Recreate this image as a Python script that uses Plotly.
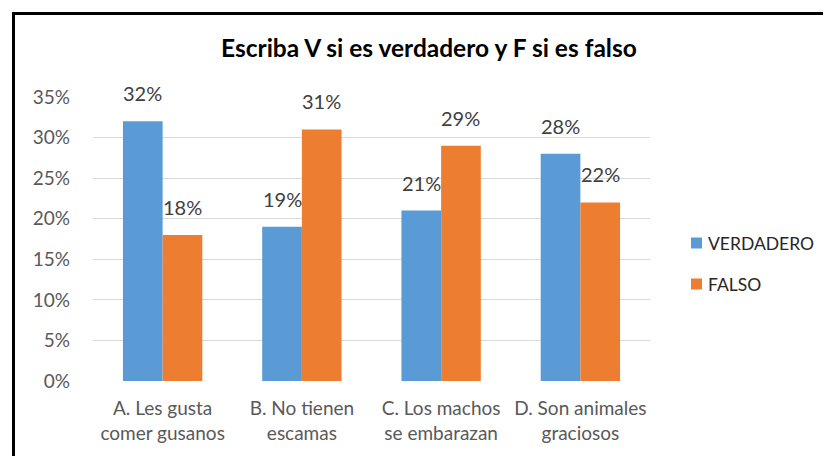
import plotly.graph_objects as go

categories = ["A. Les gusta<br>comer gusanos", "B. No tienen<br>escamas",
              "C. Los machos<br>se embarazan", "D. Son animales<br>graciosos"]
series_names = ["VERDADERO", "FALSO"]
verdadero = [0.32, 0.19, 0.21, 0.28]
falso = [0.18, 0.31, 0.29, 0.22]
y_ticks = [0, 0.05, 0.10, 0.15, 0.20, 0.25, 0.30, 0.35]
y_tick_labels = ["0%", "5%", "10%", "15%", "20%", "25%", "30%", "35%"]
title_text = "Escriba V si es verdadero y F si es falso"
caption_text = "Figura 8. Resultados de la pregunta 8"

FONT = "Lato"
colors = ["#5B9BD5", "#ED7D31"]

# page has an 8px body margin; compensate so the figure lands where the reference is
OFF = 8
W, H = 831 - OFF, 456 - OFF
L, R, T, B = 93 - OFF, 181, 97 - OFF, 75
pw, ph = W - L - R, H - T - B

def px_x(x):
    return (x - OFF - L) / pw

def px_y(y):
    return (H - B - (y - OFF)) / ph

fig = go.Figure()
xs = list(range(len(categories)))
for name, vals, col in zip(series_names, [verdadero, falso], colors):
    fig.add_trace(go.Bar(x=xs, y=vals, name=name, marker=dict(color=col, line=dict(width=0)),
                         showlegend=False))

# data labels
bw = (1 - 0.43) / 2
for k, vals in enumerate([verdadero, falso]):
    off = -bw / 2 if k == 0 else bw / 2
    for i, v in enumerate(vals):
        fig.add_annotation(x=i + off, y=v, xref="x", yref="y", text=f"{round(v*100)}%",
                           showarrow=False, yanchor="bottom", yshift=14,
                           font=dict(family=FONT, size=20, color="#404040"))

# custom legend
leg_y = [243, 284]
for name, col, yy in zip(series_names, colors, leg_y):
    fig.add_shape(type="rect", xref="paper", yref="paper",
                  x0=px_x(691), x1=px_x(702), y0=px_y(yy + 5.5), y1=px_y(yy - 5.5),
                  fillcolor=col, line=dict(width=0))
    fig.add_annotation(x=px_x(706), y=px_y(yy), xref="paper", yref="paper", text=name,
                       showarrow=False, xanchor="left", yanchor="middle",
                       font=dict(family=FONT, size=17.5, color="#262626"))

# title
fig.add_annotation(x=px_x(429), y=px_y(48), xref="paper", yref="paper", text=f"<b>{title_text}</b>",
                   showarrow=False, xanchor="center", yanchor="middle",
                   font=dict(family=FONT, size=24.5, color="#000000"))

# caption above the chart, mostly cut off by the top edge (as in the reference)
fig.add_annotation(x=px_x(6), y=px_y(7), xref="paper", yref="paper", text=caption_text,
                   showarrow=False, xanchor="left", yanchor="bottom",
                   font=dict(family="Liberation Serif", size=31, color="#000000"))

# frame
fig.add_shape(type="rect", xref="paper", yref="paper",
              x0=px_x(13.5), x1=px_x(845), y0=px_y(470), y1=px_y(13.5),
              line=dict(color="#000000", width=3), fillcolor="rgba(0,0,0,0)")

fig.update_layout(
    width=W, height=H,
    margin=dict(l=L, r=R, t=T, b=B, pad=0),
    paper_bgcolor="white", plot_bgcolor="white",
    barmode="group", bargap=0.43, bargroupgap=0,
    font=dict(family=FONT, color="#595959"),
    xaxis=dict(tickmode="array", tickvals=xs, ticktext=categories, range=[-0.5, 3.5],
               showgrid=False, zeroline=False, showline=False, ticks="",
               tickfont=dict(family=FONT, size=19, color="#595959"), ticklabelstandoff=14),
    yaxis=dict(range=[0, 0.35], tickmode="array", tickvals=y_ticks, ticktext=y_tick_labels,
               showgrid=True, gridcolor="#D9D9D9", gridwidth=1, zeroline=False, showline=False,
               ticks="", tickfont=dict(family=FONT, size=19, color="#595959"), ticklabelstandoff=22),
)

fig.write_html("out.html")
